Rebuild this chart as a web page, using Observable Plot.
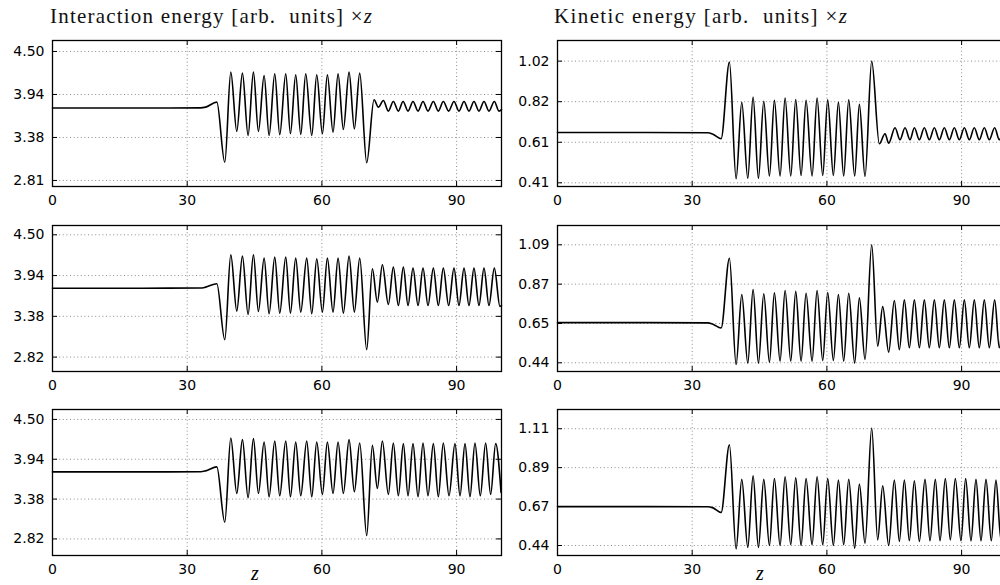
<!DOCTYPE html>
<html><head><meta charset="utf-8">
<script src="https://cdn.jsdelivr.net/npm/d3@7"></script>
<script src="https://cdn.jsdelivr.net/npm/@observablehq/plot@0.6"></script>
<style>
html,body{margin:0;padding:0;background:#fff;width:1000px;height:585px;overflow:hidden;position:relative}
.panel{position:absolute}
#labels{position:absolute;left:0;top:0}
</style></head><body>
<svg id="labels" width="1000" height="585"></svg>
<script>
// ---- data: [z, value] ----
const xTicks = [0, 30, 60, 90];

const intRow1 = [[0,3.760],[20,3.760],[33.0,3.762],[34.1,3.772],[36.6,3.837],[38.37,3.050],
[39.71,4.230],[41.04,3.454],[42.30,4.217],[43.56,3.401],[44.75,4.230],[45.86,3.454],[47.13,4.186],[48.24,3.401],[49.50,4.208],[50.61,3.410],[51.95,4.208],[52.99,3.423],[54.17,4.195],[55.29,3.414],[56.40,4.208],[57.74,3.401],[58.85,4.195],[60.11,3.423],[61.22,4.195],[62.48,3.445],[63.60,4.208],[64.78,3.480],[66.05,4.230],[67.23,3.488],[68.42,4.217],[69.98,3.044],
[71.61,3.868],[72.58,3.772],[73.69,3.859],[74.80,3.720],[75.91,3.845],[77.03,3.720],[78.07,3.845],[79.18,3.720],[80.29,3.845],[81.41,3.720],[82.52,3.845],[83.63,3.720],[84.82,3.845],[85.93,3.720],[87.04,3.845],[88.23,3.720],[89.42,3.845],[90.53,3.720],[91.65,3.845],[92.76,3.720],[93.87,3.845],[94.98,3.720],[96.10,3.845],[97.21,3.720],[98.40,3.845],[99.44,3.720],[100,3.740]];

const intRow2 = [[0,3.765],[20,3.765],[33.0,3.767],[34.1,3.780],[36.6,3.826],[38.37,3.055],
[39.71,4.225],[41.04,3.450],[42.30,4.206],[43.56,3.404],[44.75,4.225],[45.86,3.445],[47.13,4.179],[48.24,3.413],[49.50,4.193],[50.61,3.422],[51.95,4.193],[52.99,3.422],[54.17,4.179],[55.29,3.436],[56.62,4.179],[57.74,3.413],[58.85,4.170],[60.11,3.436],[61.22,4.179],[62.48,3.436],[63.60,4.179],[64.78,3.422],[66.05,4.206],[67.23,3.436],[68.42,4.179],[69.98,2.917],
[71.24,4.032],[72.35,3.573],[73.47,4.087],[74.80,3.541],[75.91,4.055],[77.03,3.527],[78.14,4.055],[79.18,3.527],[80.29,4.041],[81.41,3.527],[82.52,4.041],[83.63,3.527],[84.82,4.041],[85.93,3.527],[87.04,4.041],[88.23,3.527],[89.42,4.041],[90.53,3.527],[91.65,4.041],[92.76,3.527],[93.87,4.041],[94.98,3.527],[96.10,4.041],[97.21,3.527],[98.40,4.041],[99.66,3.514],[100,3.530]];

const intRow3 = [[0,3.761],[20,3.761],[33.0,3.763],[34.1,3.775],[36.6,3.831],[38.37,3.051],
[39.71,4.238],[41.04,3.457],[42.30,4.215],[43.56,3.397],[44.75,4.229],[45.86,3.457],[47.13,4.182],[48.24,3.411],[49.50,4.196],[50.61,3.425],[51.95,4.196],[52.99,3.411],[54.17,4.182],[55.29,3.425],[56.62,4.196],[57.74,3.411],[58.85,4.182],[60.11,3.443],[61.22,4.182],[62.48,3.457],[63.60,4.182],[64.78,3.457],[66.05,4.215],[67.23,3.481],[68.42,4.168],[69.98,2.864],
[71.24,4.135],[72.35,3.528],[73.47,4.196],[74.80,3.443],[75.91,4.168],[77.03,3.425],[78.14,4.159],[79.18,3.425],[80.29,4.159],[81.41,3.411],[82.52,4.168],[83.63,3.425],[84.82,4.159],[85.93,3.411],[87.04,4.168],[88.31,3.425],[89.64,4.159],[90.76,3.425],[91.87,4.159],[92.98,3.411],[94.09,4.168],[95.28,3.425],[96.47,4.168],[97.58,3.443],[98.70,4.159],[99.90,3.470]];

const kinRow1 = [[0,0.662],[20,0.662],[33.5,0.661],[34.5,0.655],[36.44,0.631],[38.29,1.015],
[39.78,0.430],[41.04,0.814],[42.38,0.433],[43.56,0.840],[44.75,0.433],[45.94,0.819],[47.20,0.444],[48.31,0.823],[49.57,0.444],[50.69,0.835],[51.95,0.444],[53.06,0.828],[54.25,0.447],[55.36,0.823],[56.70,0.444],[57.81,0.835],[59.07,0.447],[60.18,0.826],[61.44,0.447],[62.56,0.814],[63.74,0.444],[64.86,0.826],[66.19,0.444],[67.23,0.803],[68.49,0.442],[69.98,1.020],
[71.68,0.606],[72.95,0.656],[73.76,0.609],[75.17,0.686],[76.28,0.626],[77.40,0.686],[78.51,0.626],[79.48,0.686],[80.59,0.626],[81.70,0.686],[82.81,0.626],[83.93,0.686],[85.04,0.626],[86.15,0.686],[87.27,0.626],[88.38,0.686],[89.49,0.626],[90.61,0.686],[91.72,0.626],[92.83,0.686],[93.94,0.626],[95.06,0.686],[96.17,0.626],[97.36,0.686],[98.40,0.626],[99.55,0.686],[100,0.670]];

const kinRow2 = [[0,0.659],[20,0.659],[33.5,0.658],[34.5,0.652],[36.44,0.629],[38.29,1.016],
[39.78,0.427],[41.04,0.815],[42.38,0.435],[43.56,0.843],[44.75,0.435],[45.94,0.819],[47.20,0.440],[48.31,0.824],[49.57,0.446],[50.69,0.837],[51.95,0.446],[53.06,0.832],[54.25,0.446],[55.36,0.822],[56.70,0.446],[57.81,0.837],[59.07,0.449],[60.18,0.826],[61.44,0.449],[62.56,0.815],[63.74,0.446],[64.86,0.822],[66.19,0.435],[67.23,0.796],[68.49,0.455],[69.98,1.090],
[71.31,0.529],[72.43,0.748],[73.76,0.496],[75.02,0.782],[76.14,0.509],[77.25,0.785],[78.36,0.520],[79.48,0.785],[80.59,0.520],[81.70,0.785],[82.81,0.520],[83.93,0.785],[85.04,0.520],[86.15,0.785],[87.27,0.520],[88.38,0.785],[89.49,0.520],[90.61,0.785],[91.72,0.520],[92.83,0.785],[93.94,0.520],[95.06,0.785],[96.17,0.520],[97.36,0.785],[98.40,0.520],[99.55,0.785],[100,0.750]];

const kinRow3 = [[0,0.666],[20,0.666],[33.5,0.665],[34.5,0.660],[36.44,0.632],[38.29,1.019],
[39.78,0.425],[41.04,0.821],[42.38,0.433],[43.56,0.841],[44.75,0.433],[45.94,0.821],[47.20,0.444],[48.31,0.826],[49.57,0.444],[50.69,0.836],[51.95,0.448],[53.06,0.830],[54.25,0.444],[55.36,0.826],[56.70,0.448],[57.81,0.836],[59.07,0.448],[60.18,0.826],[61.44,0.444],[62.56,0.817],[63.74,0.448],[64.86,0.822],[66.19,0.429],[67.23,0.794],[68.49,0.457],[69.98,1.114],
[71.31,0.476],[72.43,0.785],[73.76,0.444],[75.02,0.817],[76.14,0.467],[77.25,0.817],[78.36,0.471],[79.48,0.813],[80.59,0.467],[81.85,0.821],[82.96,0.471],[84.15,0.822],[85.19,0.471],[86.38,0.826],[87.49,0.476],[88.60,0.826],[89.86,0.471],[90.90,0.826],[92.09,0.471],[93.20,0.821],[94.32,0.471],[95.43,0.821],[96.62,0.471],[97.65,0.817],[98.77,0.476],[99.90,0.820]];

// y tick values and their labels
const intTicks1 = [2.8125, 3.375, 3.9375, 4.5];
const intLabels1 = ["2.81", "3.38", "3.94", "4.50"];
const intTicks23 = [2.8167, 3.3778, 3.9389, 4.5];
const intLabels23 = ["2.82", "3.38", "3.94", "4.50"];
const kinTicks1 = [0.41, 0.6133, 0.8167, 1.02];
const kinLabels1 = ["0.41", "0.61", "0.82", "1.02"];
const kinTicks2 = [0.4367, 0.6544, 0.8722, 1.09];
const kinLabels2 = ["0.44", "0.65", "0.87", "1.09"];
const kinTicks3 = [0.444, 0.666, 0.888, 1.11];
const kinLabels3 = ["0.44", "0.67", "0.89", "1.11"];

// y-axis limits
const intDomains = [[2.7336, 4.6435], [2.6185, 4.628], [2.583, 4.640]];
const kinDomains = [[0.3915, 1.1234], [0.3885, 1.197], [0.387, 1.2196]];

// ---- layout ----
const H = 146, MT = 2, MB = 26, ML = 52, MR = 2, W = 503;
const innerW = W - ML - MR;
const rowTops = [40, 225, 409];

function panel(data, yDomain, yTicks, yLabels) {
  const fmt = d => yLabels[yTicks.indexOf(d)];
  const gridStyle = {stroke: "#8c8c8c", strokeOpacity: 1, strokeWidth: 1, strokeDasharray: "1,2.6"};
  return Plot.plot({
    width: W, height: H + MT + MB,
    marginTop: MT, marginBottom: MB, marginLeft: ML, marginRight: MR,
    style: {fontFamily: "'DejaVu Sans', sans-serif", fontSize: "14px", color: "black", background: "transparent", overflow: "visible"},
    x: {domain: [0, 100]},
    y: {domain: yDomain},
    marks: [
      Plot.gridX(xTicks.slice(1), gridStyle),
      Plot.gridY(yTicks, gridStyle),
      Plot.tickX(xTicks, {stroke: "black", strokeWidth: 1, insetBottom: H - 5}),
      Plot.tickX(xTicks, {stroke: "black", strokeWidth: 1, insetTop: H - 5}),
      Plot.tickY(yTicks, {stroke: "black", strokeWidth: 1, insetRight: innerW - 5}),
      Plot.tickY(yTicks, {stroke: "black", strokeWidth: 1, insetLeft: innerW - 5}),
      Plot.axisX(xTicks, {anchor: "bottom", tickSize: 0, tickPadding: 9, label: null, fill: "black"}),
      Plot.axisY(yTicks, {anchor: "left", tickSize: 0, tickPadding: 8, tickFormat: fmt, label: null, fill: "black"}),
      Plot.line(data, {x: d => d[0], y: d => d[1], curve: "monotone-x", stroke: "black", strokeWidth: 1.6}),
      Plot.frame({stroke: "black", strokeWidth: 1.3})
    ]
  });
}

const specs = [
  [intRow1, intDomains[0], intTicks1, intLabels1, 0, 0],
  [intRow2, intDomains[1], intTicks23, intLabels23, 0, 1],
  [intRow3, intDomains[2], intTicks23, intLabels23, 0, 2],
  [kinRow1, kinDomains[0], kinTicks1, kinLabels1, 505, 0],
  [kinRow2, kinDomains[1], kinTicks2, kinLabels2, 505, 1],
  [kinRow3, kinDomains[2], kinTicks3, kinLabels3, 505, 2]
];
for (const [data, dom, ticks, labels, left, row] of specs) {
  const svg = panel(data, dom, ticks, labels);
  svg.classList.add("panel");
  svg.style.position = "absolute";
  svg.style.left = left + "px";
  svg.style.top = (rowTops[row] - MT) + "px";
  document.body.appendChild(svg);
}

// ---- titles and z labels ----
const L = d3.select("#labels");
const serif = "'Liberation Serif', serif";
function title(x, y, s, len) {
  const t = L.append("text").attr("x", x).attr("y", y).attr("font-family", serif).attr("font-size", 21)
    .attr("fill", "#111").attr("textLength", len).attr("lengthAdjust", "spacing").style("white-space", "pre");
  t.append("tspan").text(s);
  t.append("tspan").attr("font-style", "italic").text("z");
}
title(50, 23, "Interaction energy [arb.  units] \u00d7", 322);
title(554, 23, "Kinetic energy [arb.  units] \u00d7", 293);
for (const x of [255, 760]) {
  L.append("text").attr("x", x).attr("y", 580).attr("text-anchor", "middle").attr("font-family", serif).attr("font-style", "italic").attr("font-size", 20).text("z");
}
</script>
</body></html>
